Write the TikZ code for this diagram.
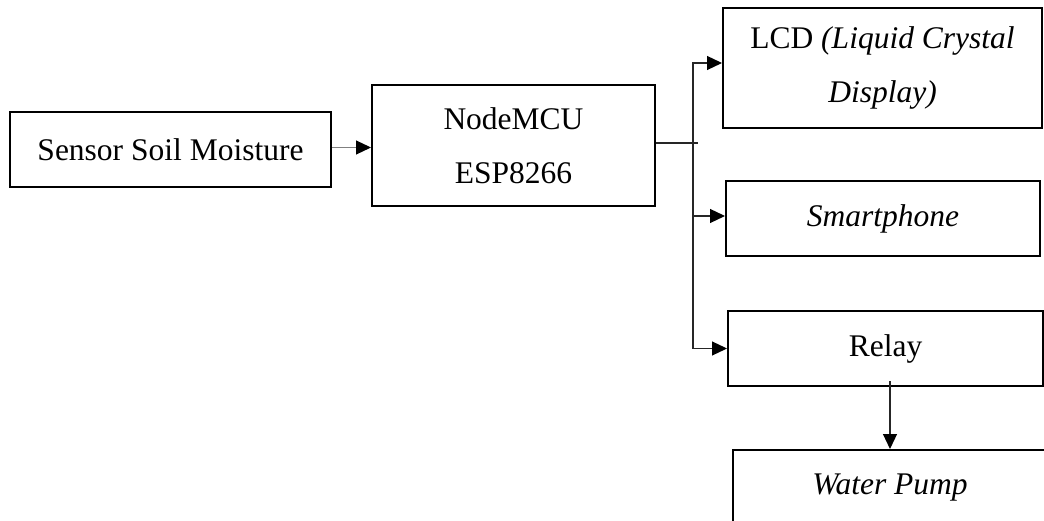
\documentclass[tikz,border=0pt]{standalone}
\usepackage{fontspec}
\setmainfont{Liberation Serif}
\usetikzlibrary{arrows.meta,calc}
\begin{document}
\begin{tikzpicture}[x=1pt,y=-1pt,
  box/.style={draw=black,line width=2pt,rectangle,inner sep=0pt,align=center,
    font=\fontsize{31.5}{54}\selectfont},
  conn/.style={draw=black!85,line width=1.2pt,-{Triangle[length=15pt,width=14pt,color=black]}},
  plain/.style={draw=black!85,line width=1.2pt}]
\useasboundingbox (0,0) rectangle (1044,521);
\clip (0,0) rectangle (1044,521);
\node[box,minimum width=321pt,minimum height=75pt] (sensor) at (170.5,149.5) {Sensor Soil Moisture};
\node[box,minimum width=283pt,minimum height=121pt] (mcu) at (513.5,145.5) {NodeMCU\\ESP8266};
\node[box,minimum width=319pt,minimum height=120pt] (lcd) at (882.5,68) {LCD \textit{(Liquid Crystal}\\\textit{Display)}};
\node[box,minimum width=314pt,minimum height=75pt] (smart) at (883,218.5) {\textit{Smartphone}};
\node[box,minimum width=315pt,minimum height=75pt] (relay) at (885.5,348.5) {Relay};
\node[box,minimum width=314pt,minimum height=75pt] (pump) at (890,487.5) {\textit{Water Pump}};
\coordinate (bus) at (693,143);
\coordinate (stub) at (698,143);
\draw[conn,draw=black!50] ($(sensor.east)+(0,-2)$) -- ($(sensor.east -| mcu.west)+(0,-2)$);
\draw[plain] ($(mcu.east)+(0,-2.5)$) -- (stub);
\draw[conn] (bus) |- ($(lcd.west)+(0,-5)$);
\draw[conn] (bus) |- ($(smart.west)+(0,-2.5)$);
\draw[conn] (bus) |- (relay.west);
\draw[conn] ($(pump.north |- relay.south)+(0,-6)$) -- (pump.north);
\end{tikzpicture}
\end{document}
